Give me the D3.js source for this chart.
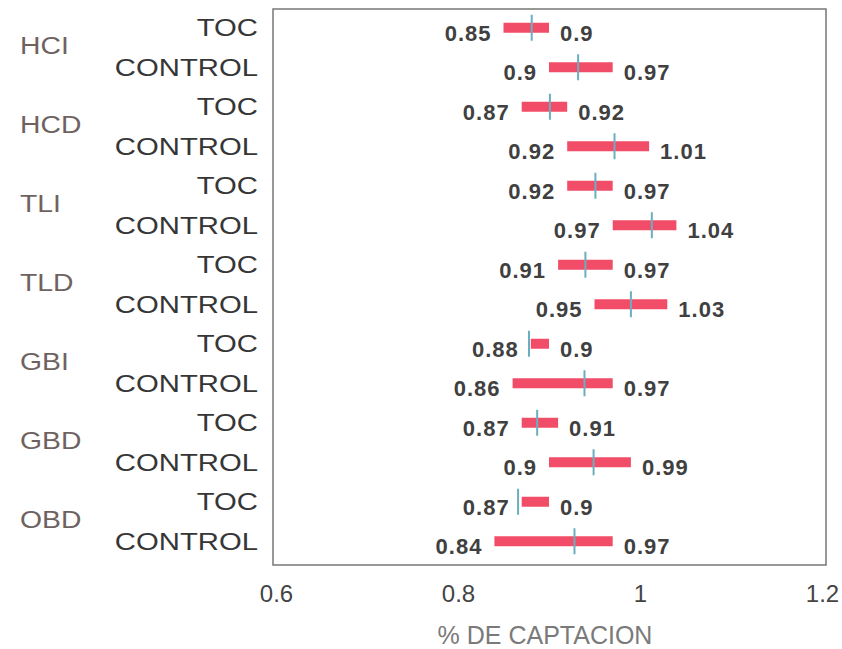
<!DOCTYPE html>
<html>
<head>
<meta charset="utf-8">
<script src="https://cdn.jsdelivr.net/npm/d3@7"></script>
<style>
  html, body { margin: 0; padding: 0; background: #fff; }
  svg { display: block; font-family: "Liberation Sans", Arial, Helvetica, sans-serif; }
</style>
</head>
<body>
<svg id="chart" width="842" height="649"></svg>
<script>
// ---- data ----
const groups = ["HCI", "HCD", "TLI", "TLD", "GBI", "GBD", "OBD"];
const treatments = ["TOC", "CONTROL"];
const lowValues    = [0.85, 0.90, 0.87, 0.92, 0.92, 0.97, 0.91, 0.95, 0.88, 0.86, 0.87, 0.90, 0.87, 0.84];
const highValues   = [0.90, 0.97, 0.92, 1.01, 0.97, 1.04, 0.97, 1.03, 0.90, 0.97, 0.91, 0.99, 0.90, 0.97];
const medianValues = [0.881, 0.932, 0.901, 0.972, 0.951, 1.013, 0.940, 0.990, 0.878, 0.939, 0.887, 0.949, 0.866, 0.928];
const lowLabels  = ["0.85", "0.9", "0.87", "0.92", "0.92", "0.97", "0.91", "0.95", "0.88", "0.86", "0.87", "0.9", "0.87", "0.84"];
const highLabels = ["0.9", "0.97", "0.92", "1.01", "0.97", "1.04", "0.97", "1.03", "0.9", "0.97", "0.91", "0.99", "0.9", "0.97"];
const xTicks = [0.6, 0.8, 1.0, 1.2];
const xTickLabels = ["0.6", "0.8", "1", "1.2"];
const xTitle = "% DE CAPTACION";

// ---- build rows ----
const rows = [];
groups.forEach((g, gi) => {
  treatments.forEach((t, ti) => {
    const i = gi * 2 + ti;
    rows.push({ id: g + "-" + t, group: g, treatment: t,
      low: lowValues[i], high: highValues[i], median: medianValues[i],
      lowLabel: lowLabels[i], highLabel: highLabels[i] });
  });
});

const svg = d3.select("#chart");
const frame = { left: 273, right: 826, top: 9, bottom: 565 };

const x = d3.scaleLinear().domain([0.6, 1.2]).range([276, 822]);
const y = d3.scaleBand().domain(rows.map(r => r.id)).range([frame.top - 1, frame.bottom - 4]);
const yc = id => y(id) + y.bandwidth() / 2;

// frame
svg.append("rect")
  .attr("x", frame.left).attr("y", frame.top)
  .attr("width", frame.right - frame.left).attr("height", frame.bottom - frame.top)
  .attr("fill", "none").attr("stroke", "#777").attr("stroke-width", 1.5);

// bars
const barH = 10;
svg.append("g").selectAll("rect").data(rows).join("rect")
  .attr("x", d => x(d.low))
  .attr("y", d => yc(d.id) - barH / 2)
  .attr("width", d => x(d.high) - x(d.low))
  .attr("height", barH)
  .attr("fill", "#f24d68");

// median markers
svg.append("g").selectAll("line").data(rows).join("line")
  .attr("x1", d => x(d.median)).attr("x2", d => x(d.median))
  .attr("y1", d => yc(d.id) - 13).attr("y2", d => yc(d.id) + 13)
  .attr("stroke", "#6aaebf").attr("stroke-width", 2);

// value labels
const numStyle = sel => sel.attr("font-size", 22).attr("font-weight", "bold")
  .attr("letter-spacing", 1).attr("fill", "#404040");
svg.append("g").selectAll("text").data(rows).join("text")
  .attr("x", d => x(d.low) - 12)
  .attr("y", d => yc(d.id) + 13)
  .attr("text-anchor", "end")
  .text(d => d.lowLabel)
  .call(numStyle);
svg.append("g").selectAll("text").data(rows).join("text")
  .attr("x", d => x(d.high) + 11)
  .attr("y", d => yc(d.id) + 13)
  .attr("text-anchor", "start")
  .text(d => d.highLabel)
  .call(numStyle);

// treatment labels (stretched horizontally like the original)
svg.append("g").selectAll("text").data(rows).join("text")
  .attr("transform", d => `translate(258,${yc(d.id) + 8.5}) scale(1.22,1)`)
  .attr("text-anchor", "end")
  .attr("font-size", 24)
  .attr("fill", "#363636")
  .text(d => d.treatment);

// group labels
svg.append("g").selectAll("text").data(groups).join("text")
  .attr("transform", g => {
    const c = (yc(g + "-TOC") + yc(g + "-CONTROL")) / 2;
    return `translate(20,${c + 6.5}) scale(1.18,1)`;
  })
  .attr("text-anchor", "start")
  .attr("font-size", 24)
  .attr("fill", "#6e6260")
  .text(g => g);

// x axis labels (no tick lines)
const xAxis = d3.axisBottom(x).tickValues(xTicks)
  .tickFormat((d, i) => xTickLabels[i]).tickSize(0).tickPadding(0);
const ax = svg.append("g").attr("transform", `translate(0,${frame.bottom})`).call(xAxis);
ax.select(".domain").remove();
ax.selectAll("text")
  .attr("dy", null).attr("y", 37)
  .attr("font-size", 24).attr("fill", "#444")
  .attr("font-family", "Liberation Sans, Arial, sans-serif");

// x title
svg.append("text")
  .attr("x", 545).attr("y", 644)
  .attr("text-anchor", "middle")
  .attr("font-size", 25)
  .attr("fill", "#7a7a7a")
  .text(xTitle);
</script>
</body>
</html>
